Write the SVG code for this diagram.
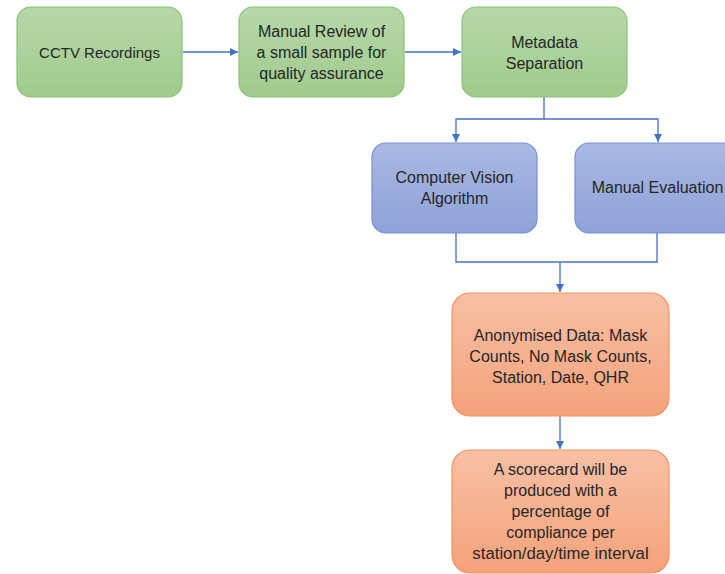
<svg xmlns="http://www.w3.org/2000/svg" width="725" height="574" viewBox="0 0 725 574">
<style>
text{font-family:"Liberation Sans",Arial,sans-serif;font-size:16px;fill:#262626;text-anchor:middle}
.g{fill:url(#gg);stroke:#8cc07a;stroke-width:1.2}
.b{fill:url(#gb);stroke:#7590d2;stroke-width:1.2}
.o{fill:url(#go);stroke:#f0955f;stroke-width:1.2}
.c{fill:none;stroke:#4472c4;stroke-width:1.3}
</style>
<defs>
<linearGradient id="gg" x1="0" y1="0" x2="0" y2="1"><stop offset="0" stop-color="#b7d8aa"/><stop offset="1" stop-color="#9fcb8c"/></linearGradient>
<linearGradient id="gb" x1="0" y1="0" x2="0" y2="1"><stop offset="0" stop-color="#aab8e3"/><stop offset="1" stop-color="#8da2d9"/></linearGradient>
<linearGradient id="go" x1="0" y1="0" x2="0" y2="1"><stop offset="0" stop-color="#f8c0a5"/><stop offset="1" stop-color="#f4a27b"/></linearGradient>
<marker id="ah" viewBox="0 0 10 10" refX="10" refY="5" markerWidth="8" markerHeight="8" markerUnits="userSpaceOnUse" orient="auto"><path d="M0,0L10,5L0,10z" fill="#4472c4"/></marker>
</defs>
<g id="connectors">
<path class="c" d="M183,52H238" marker-end="url(#ah)"/>
<path class="c" d="M405,52H461" marker-end="url(#ah)"/>
<path class="c" d="M544,97V119H456V142" marker-end="url(#ah)"/>
<path class="c" d="M544,119H658V142" marker-end="url(#ah)"/>
<path class="c" d="M456,233V262H657V233"/>
<path class="c" d="M560,262V292" marker-end="url(#ah)"/>
<path class="c" d="M560,416V449" marker-end="url(#ah)"/>
</g>
<g id="n1"><rect class="g" x="17" y="7" width="165" height="90" rx="14"/><text x="99.5" y="57.5" style="font-size:15px">CCTV Recordings</text></g>
<g id="n2"><rect class="g" x="239" y="7" width="165" height="90" rx="14"/><text x="321.5" y="36.5">Manual Review of</text><text x="321.5" y="57.5">a small sample for</text><text x="321.5" y="78.5">quality assurance</text></g>
<g id="n3"><rect class="g" x="462" y="7" width="165" height="90" rx="14"/><text x="544.5" y="47.5">Metadata</text><text x="544.5" y="68.5">Separation</text></g>
<g id="n4"><rect class="b" x="372" y="143" width="165" height="90" rx="14"/><text x="454.5" y="182.5">Computer Vision</text><text x="454.5" y="203.5">Algorithm</text></g>
<g id="n5"><rect class="b" x="575" y="143" width="165" height="90" rx="14"/><text x="657.5" y="192.5">Manual Evaluation</text></g>
<g id="n6"><rect class="o" x="452" y="293" width="217" height="123" rx="18"/><text x="560.5" y="340.5">Anonymised Data: Mask</text><text x="560.5" y="361.5">Counts, No Mask Counts,</text><text x="560.5" y="382.5">Station, Date, QHR</text></g>
<g id="n7"><rect class="o" x="452" y="450" width="217" height="123" rx="18"/><text x="560.5" y="474.5">A scorecard will be</text><text x="560.5" y="495.5">produced with a</text><text x="560.5" y="516.5">percentage of</text><text x="560.5" y="537.5">compliance per</text><text x="560.5" y="558.5" style="font-size:16.8px">station/day/time interval</text></g>
</svg>
